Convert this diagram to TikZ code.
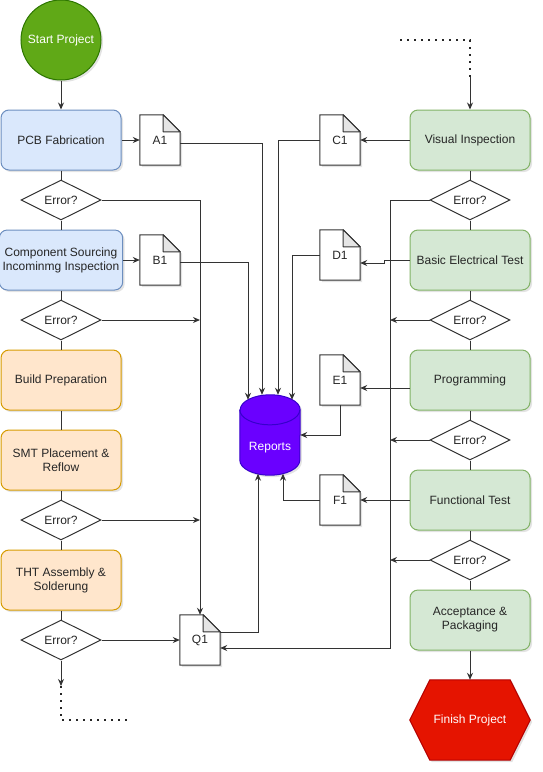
\documentclass[tikz,border=0pt]{standalone}
\usepackage{fontspec}
\setmainfont{Liberation Sans}
\usetikzlibrary{shapes.geometric, arrows.meta, shadows, backgrounds, calc}

\definecolor{ink}{HTML}{262626}
\definecolor{wire}{HTML}{333333}
\definecolor{blueFill}{HTML}{DAE8FC}
\definecolor{blueLine}{HTML}{6C8EBF}
\definecolor{orangeFill}{HTML}{FFE6CC}
\definecolor{orangeLine}{HTML}{D79B00}
\definecolor{greenFill}{HTML}{D5E8D4}
\definecolor{greenLine}{HTML}{82B366}
\definecolor{startFill}{HTML}{60A917}
\definecolor{startLine}{HTML}{2D7600}
\definecolor{finFill}{HTML}{E51400}
\definecolor{finLine}{HTML}{B20000}
\definecolor{repFill}{HTML}{6A00FF}
\definecolor{repLine}{HTML}{3700CC}

\tikzset{
    shade/.style={drop shadow={shadow xshift=2pt, shadow yshift=-2pt, opacity=0.22}},
    box/.style={rectangle, rounded corners=8pt, minimum width=120pt, minimum height=60pt,
        align=center, line width=1pt, shade},
    bluebox/.style={box, fill=blueFill, draw=blueLine},
    orangebox/.style={box, fill=orangeFill, draw=orangeLine},
    greenbox/.style={box, fill=greenFill, draw=greenLine},
    decision/.style={diamond, aspect=2, minimum width=80pt, minimum height=40pt,
        inner sep=0pt, draw=wire, fill=white, line width=1pt},
    docnode/.style={rectangle, minimum width=40pt, minimum height=50pt, inner sep=0pt},
    flow/.style={draw=wire, line width=1pt},
    arr/.style={flow, -{Stealth[length=7pt, width=6pt]}},
    loopline/.style={draw=ink, line width=1.6pt, dash pattern=on 1.6pt off 5.4pt}
}

\begin{document}
\begin{tikzpicture}[x=1pt, y=-1pt, font=\fontsize{12}{14}\selectfont, every node/.append style={text=ink}]
    \useasboundingbox (0, 0) rectangle (542, 772);

    % Start and finish
    \node[circle, minimum size=80pt, fill=startFill, draw=startLine, line width=1pt, shade,
        text=white] (start) at (61, 40) {Start Project};
    \node[rectangle, minimum width=120pt, minimum height=80pt, text=white] (fin) at (470, 720) {Finish Project};

    % Left column
    \node[bluebox] (pcb) at (61, 140) {PCB Fabrication};
    \node[decision] (err1) at (61, 200) {Error?};
    \node[bluebox] (comp) at (61, 260) {Component Sourcing\\Incominmg Inspection};
    \node[decision] (err2) at (61, 320) {Error?};
    \node[orangebox] (prep) at (61, 380) {Build Preparation};
    \node[orangebox] (smt) at (61, 460) {SMT Placement \&\\Reflow};
    \node[decision] (err3) at (61, 520) {Error?};
    \node[orangebox] (tht) at (61, 580) {THT Assembly \&\\Solderung};
    \node[decision] (err4) at (61, 640) {Error?};

    % Right column
    \node[greenbox] (vis) at (470, 140) {Visual Inspection};
    \node[decision] (err5) at (470, 200) {Error?};
    \node[greenbox] (bet) at (470, 260) {Basic Electrical Test};
    \node[decision] (err6) at (470, 320) {Error?};
    \node[greenbox] (prog) at (470, 380) {Programming};
    \node[decision] (err7) at (470, 440) {Error?};
    \node[greenbox] (func) at (470, 500) {Functional Test};
    \node[decision] (err8) at (470, 560) {Error?};
    \node[greenbox] (acc) at (470, 620) {Acceptance \&\\Packaging};

    % Documents
    \node[docnode] (A1) at (160, 140) {A1};
    \node[docnode] (B1) at (160, 260) {B1};
    \node[docnode] (Q1) at (200, 640) {Q1};
    \node[docnode] (C1) at (340, 140) {C1};
    \node[docnode] (D1) at (340, 255) {D1};
    \node[docnode] (E1) at (340, 380) {E1};
    \node[docnode] (F1) at (340, 500) {F1};

    % Reports
    \node[rectangle, minimum width=60pt, minimum height=80pt, inner sep=0pt,
        label={[text=white, yshift=-13pt]center:Reports}] (rep) at (270, 435) {};

    % Loop points and error bus
    \coordinate (loopA) at (61, 686);
    \coordinate (loopB) at (61, 720);
    \coordinate (loopC) at (130, 720);
    \coordinate (loopD) at (400, 40);
    \coordinate (loopE) at (470, 40);
    \coordinate (loopF) at (470, 77);
    \coordinate (bus) at (390, 648);

    % Shapes behind the texts
    \begin{scope}[on background layer]
        \foreach \d in {A1, B1, Q1, C1, D1, E1, F1} {
            \path[fill=white, draw=wire, line width=1pt, shade]
                (\d.south west) -- (\d.north west) -- ([xshift=-17pt]\d.north east)
                -- ([yshift=-17pt]\d.north east) -- (\d.south east) -- cycle;
            \path[fill=black!10, draw=wire, line width=1pt, line join=round]
                ([xshift=-17pt]\d.north east) -- ([xshift=-17pt, yshift=-17pt]\d.north east)
                -- ([yshift=-17pt]\d.north east) -- cycle;
        }
        \path[fill=repFill, draw=repLine, line width=1pt, shade]
            ([yshift=-15pt]rep.north west) -- ([yshift=15pt]rep.south west)
            arc[start angle=180, end angle=360, x radius=30pt, y radius=15pt]
            -- ([yshift=-15pt]rep.north east)
            arc[start angle=0, end angle=180, x radius=30pt, y radius=15pt] -- cycle;
        \draw[repLine, line width=1pt] ([yshift=-15pt]rep.north west)
            arc[start angle=180, end angle=360, x radius=30pt, y radius=15pt];
        \path[fill=finFill, draw=finLine, line width=1pt, shade]
            ([xshift=20pt]fin.north west) -- ([xshift=-20pt]fin.north east) -- (fin.east)
            -- ([xshift=-20pt]fin.south east) -- ([xshift=20pt]fin.south west) -- (fin.west) -- cycle;
    \end{scope}

    % Main flow, left
    \draw[arr] (start) -- (pcb);
    \draw[flow] (pcb) -- (err1);
    \draw[flow] (err1) -- (comp);
    \draw[flow] (comp) -- (err2);
    \draw[flow] (err2) -- (prep);
    \draw[flow] (prep) -- (smt);
    \draw[flow] (smt) -- (err3);
    \draw[flow] (err3) -- (tht);
    \draw[flow] (tht) -- (err4);
    \draw[arr] (err4) -- (loopA);
    \draw[loopline] (loopA) -- (loopB) -- (loopC);

    % Main flow, right
    \draw[loopline] (loopD) -- (loopE) -- (loopF);
    \draw[arr] (loopF) -- (vis);
    \draw[flow] (vis) -- (err5);
    \draw[flow] (err5) -- (bet);
    \draw[flow] (bet) -- (err6);
    \draw[flow] (err6) -- (prog);
    \draw[flow] (prog) -- (err7);
    \draw[flow] (err7) -- (func);
    \draw[flow] (func) -- (err8);
    \draw[flow] (err8) -- (acc);
    \draw[arr] (acc) -- (fin);

    % Documents from the steps
    \draw[arr] (pcb) -- (A1);
    \draw[arr] (comp) -- (B1);
    \draw[arr] (vis) -- (C1);
    \draw[arr] (bet.west) -- ++(-25, 0) |- ([yshift=-8pt]D1.east);
    \draw[arr] ([yshift=-8pt]prog.west) -- ([yshift=-8pt]E1.east);
    \draw[arr] (func.west) -- (F1.east);

    % Documents into the reports
    \draw[arr] ([yshift=-3pt]A1.east) -| ([xshift=-8pt]rep.north);
    \draw[arr] ([yshift=-2pt]B1.east) -| ([xshift=-22pt, yshift=-5pt]rep.north);
    \draw[arr] (C1.west) -| ([xshift=8pt]rep.north);
    \draw[arr] (D1.west) -| ([xshift=22pt, yshift=-5pt]rep.north);
    \draw[arr] (E1.south) |- (rep.east);
    \draw[arr] (F1.west) -| ([xshift=13pt, yshift=1.5pt]rep.south);
    \draw[arr] ([yshift=8pt]Q1.east) -| ([xshift=-12pt, yshift=1.5pt]rep.south);

    % Errors, left
    \draw[arr] (err1.east) -| (Q1.north);
    \draw[arr] (err2.east) -- (err2.east -| Q1.north);
    \draw[arr] (err3.east) -- (err3.east -| Q1.north);
    \draw[arr] (err4.east) -- (Q1.west);

    % Errors, right
    \draw[arr] (err5.west) -| (bus) -- (bus -| Q1.east);
    \draw[arr] (err6.west) -- (err6.west -| bus);
    \draw[arr] (err7.west) -- (err7.west -| bus);
    \draw[arr] (err8.west) -- (err8.west -| bus);
\end{tikzpicture}
\end{document}
